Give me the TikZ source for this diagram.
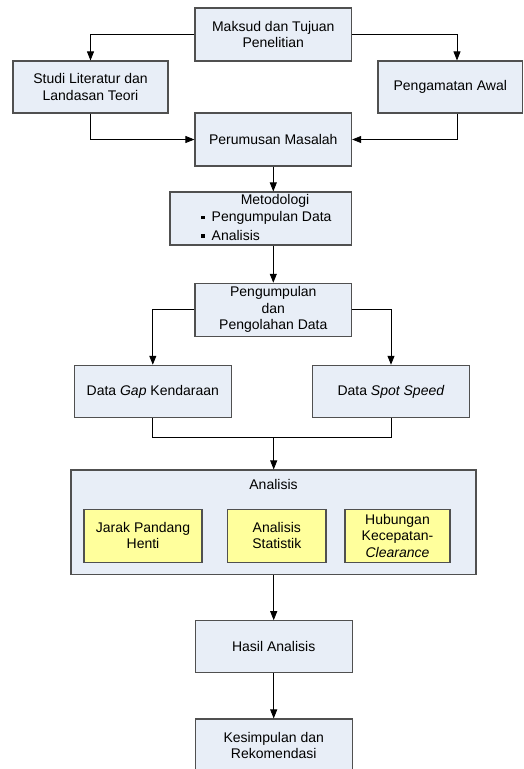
\documentclass[tikz,border=0pt]{standalone}
\usepackage{fontspec}
\setmainfont{Liberation Sans}
\usetikzlibrary{arrows.meta}
\definecolor{boxfill}{HTML}{E8EEF7}
\definecolor{boxline}{HTML}{505050}
\definecolor{yel}{HTML}{FFFF9C}
\begin{document}
\begin{tikzpicture}[x=1pt,y=-1pt,
  every node/.style={font=\fontsize{14}{16.5}\selectfont, inner sep=0pt, align=center},
  box/.style={draw=boxline, fill=boxfill, line width=1.1pt},
  ybox/.style={draw=boxline, fill=yel, line width=1.1pt},
  lbl/.style={},
  conn/.style={line width=0.8pt, -{Triangle[length=9pt,width=7pt]}},
  plain/.style={line width=0.8pt}]
\useasboundingbox (0,0) rectangle (524,769);

\node[box, minimum width=156.7pt, minimum height=53pt] (maksud) at (273.3,34.5) {Maksud dan Tujuan\\Penelitian};
\node[box, minimum width=155pt, minimum height=52pt] (studi) at (90.5,87) {Studi Literatur dan\\Landasan Teori};
\node[box, minimum width=144.7pt, minimum height=52pt] (awal) at (450.3,87) {Pengamatan Awal};
\node[box, minimum width=156.7pt, minimum height=53pt] (rumus) at (273.3,139.5) {Perumusan Masalah};
\node[box, minimum width=181.7pt, minimum height=53pt] (metode) at (260.8,218.5) {};
\node[lbl] (metodet) at (275,201) {Metodologi};
\node[lbl, anchor=west] (metode1) at (201,218) {\raisebox{2.5pt}{\rule{3.5pt}{3.5pt}}\hspace{7pt}Pengumpulan Data};
\node[lbl, anchor=west] (metode2) at (201,235) {\raisebox{2.5pt}{\rule{3.5pt}{3.5pt}}\hspace{7pt}Analisis};
\node[box, minimum width=156.7pt, minimum height=53pt] (olah) at (273.3,309.8) {Pengumpulan\\dan\\Pengolahan Data};
\node[box, minimum width=157pt, minimum height=52.4pt] (gap) at (152.8,391.5) {Data \textit{Gap} Kendaraan};
\node[box, minimum width=156.6pt, minimum height=52.4pt] (spot) at (391,391.5) {Data \textit{Spot Speed}};
\node[box, minimum width=405pt, minimum height=104.7pt] (analisis) at (273.5,522.3) {};
\node[lbl] (analisist) at (273.5,484) {Analisis};
\node[ybox, minimum width=118pt, minimum height=52.7pt] (jarak) at (143,535.7) {Jarak Pandang\\Henti};
\node[ybox, minimum width=98.3pt, minimum height=52.7pt] (stat) at (276.8,535.7) {Analisis\\Statistik};
\node[ybox, minimum width=105pt, minimum height=52.7pt] (hub) at (397.5,535.7) {Hubungan\\Kecepatan-\\\textit{Clearance}};
\node[box, minimum width=157pt, minimum height=52pt] (hasil) at (273.7,646.7) {Hasil Analisis};
\node[box, minimum width=157pt, minimum height=53pt] (simpul) at (273.7,745.5) {Kesimpulan dan\\Rekomendasi};

\coordinate (join) at (273.7,437.3);

\draw[conn] (maksud.west) -| (studi.north);
\draw[conn] (maksud.east) -| ([xshift=6.7pt]awal.north);
\draw[conn] (studi.south) |- (rumus.west);
\draw[conn] ([xshift=6.7pt]awal.south) |- (rumus.east);
\draw[conn] (rumus.south) -- (rumus.south |- metode.north);
\draw[conn] (rumus.south |- metode.south) -- (olah.north);
\draw[conn] (olah.west) -| (gap.north);
\draw[conn] (olah.east) -| (spot.north);
\draw[plain] (gap.south) |- (join) -| (spot.south);
\draw[conn] (join) -- (join |- analisis.north);
\draw[conn] (hasil.north |- analisis.south) -- (hasil.north);
\draw[conn] (hasil.south) -- (simpul.north);
\end{tikzpicture}
\end{document}
